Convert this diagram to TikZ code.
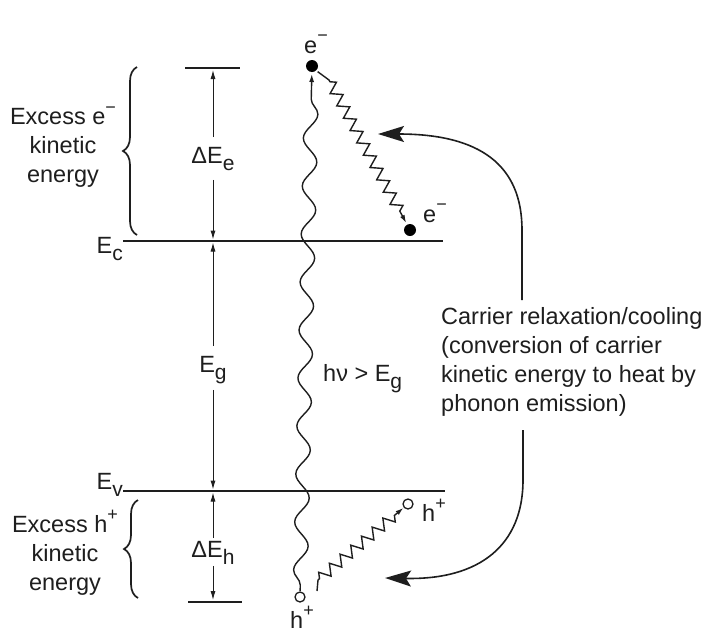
\documentclass[tikz,border=0pt]{standalone}
\usepackage{fontspec}
\setmainfont{Liberation Sans}
\usetikzlibrary{arrows.meta,decorations.pathmorphing,decorations.pathreplacing,calc}
\definecolor{ink}{RGB}{30,30,30}
\newcommand\sbs[1]{\raisebox{-0.3em}{\fontsize{21}{21}\selectfont #1}}
\newcommand\sps[1]{\raisebox{0.5em}{\fontsize{18}{18}\selectfont #1}}
\begin{document}
\begin{tikzpicture}[x=1pt,y=-1pt,
  txt/.style={font=\fontsize{23.5}{29}\selectfont, text=ink, inner sep=0pt},
  level/.style={line width=2.6pt, ink},
  bar/.style={line width=2.6pt, ink},
  varr/.style={line width=1pt, ink, -{Latex[length=9pt,width=5pt]}},
  brc/.style={line width=1.7pt, ink, decorate, decoration={brace, amplitude=14pt}},
  dot/.style={circle, fill=black, minimum size=12pt, inner sep=0pt, outer sep=2pt},
  hole/.style={circle, draw=ink, line width=1.3pt, minimum size=10pt, inner sep=0pt, outer sep=1pt},
  wave/.style={line width=1.4pt, ink, decorate, decoration={snake, amplitude=7pt, segment length=48pt, pre length=6pt, post length=8pt}, -{Latex[length=8pt,width=5pt]}},
  zz/.style={line width=1.4pt, ink, -{Latex[length=8pt,width=5pt]}},
  zzd/.style={decoration={zigzag, amplitude=5.5pt, segment length=14pt, pre length=2pt, post length=9pt}},
  bigarr/.style={line width=1.6pt, ink, -{Stealth[length=26pt,width=16pt,inset=5pt]}}]
\useasboundingbox (0,0) rectangle (705,635);
\fill[white] (0,0) rectangle (705,635);

% bars and levels
\coordinate (tbL) at (185,68); \coordinate (tbR) at (240,68);
\coordinate (bbL) at (188,602); \coordinate (bbR) at (242,602);
\coordinate (ecL) at (123,241); \coordinate (ecR) at (443,241);
\coordinate (evL) at (123,491); \coordinate (evR) at (445,491);
\draw[bar] (tbL) -- (tbR);
\draw[bar] (bbL) -- (bbR);
\draw[level] (ecL) -- (ecR);
\draw[level] (evL) -- (evR);

\coordinate (tb) at (213,70);
\coordinate (ecA) at (213,239.5);
\coordinate (ecB) at (213,242.5);
\coordinate (evA) at (213,489.5);
\coordinate (evB) at (213,492.5);
\coordinate (bb) at (213,600);

\node[txt, anchor=base east] (Ec) at (123,253) {E\sbs{c}};
\node[txt, anchor=base east] (Ev) at (123,489) {E\sbs{v}};

% energy arrows
\node[txt] (dEe) at (213,159) {ΔE\sbs{e}};
\node[txt] (Eg) at (213,370) {E\sbs{g}};
\node[txt] (dEh) at (213,553) {ΔE\sbs{h}};
\draw[varr, shorten <=10pt] (dEe) -- (tb);
\draw[varr, shorten <=9pt] (dEe) -- (ecA);
\draw[varr, shorten <=10pt] (Eg) -- (ecB);
\draw[varr, shorten <=6pt] (Eg) -- (evA);
\draw[varr, shorten <=3pt] (dEh) -- (evB);
\draw[varr, shorten <=1pt] (dEh) -- (bb);

% braces and left labels
\draw[brc] (137,235) -- (137,67);
\draw[brc] (138,598) -- (138,500);
\node[txt, align=center] (ke) at (63,147) {Excess e\sps{−}\\kinetic\\energy};
\node[txt, align=center] (kh) at (65,553) {Excess h\sps{+}\\kinetic\\energy};

% carriers
\node[dot] (e1) at (312,66) {};
\node[txt] (e1l) at (316,44) {e\sps{−}};
\node[dot] (e2) at (410,230) {};
\node[txt] (e2l) at (435,213) {e\sps{−}};
\node[hole] (h1) at (300,597) {};
\node[txt] (h1l) at (302,617) {h\sps{+}};
\node[hole] (h2) at (408,504) {};
\node[txt] (h2l) at (434,510) {h\sps{+}};

\draw[wave] (h1) -- (e1);
\coordinate (ez) at (329,80);
\coordinate (hz0) at (317,591);
\coordinate (hz) at (318,580);
\draw[zz] (e1.south east) -- (ez) decorate[zzd]{ -- (e2)};
\draw[zz] (hz0) -- (hz) decorate[zzd]{ -- (h2)};

\node[txt, anchor=base west] (hv) at (323,381) {hν > E\sbs{g}};

% relaxation text and curved arrows
\node[txt, align=left, anchor=west] (cr) at (441,362) {Carrier relaxation/cooling\\(conversion of carrier\\kinetic energy to heat by\\phonon emission)};
\coordinate (t1) at (522,300); \coordinate (t2) at (378,134);
\coordinate (b1) at (523,430); \coordinate (b2) at (385,578);
\draw[bigarr] (t1) -- (522,230) .. controls (522,165) and (480,134) .. (t2);
\draw[bigarr] (b1) -- (523,480) .. controls (523,545) and (480,580) .. (b2);
\end{tikzpicture}
\end{document}
